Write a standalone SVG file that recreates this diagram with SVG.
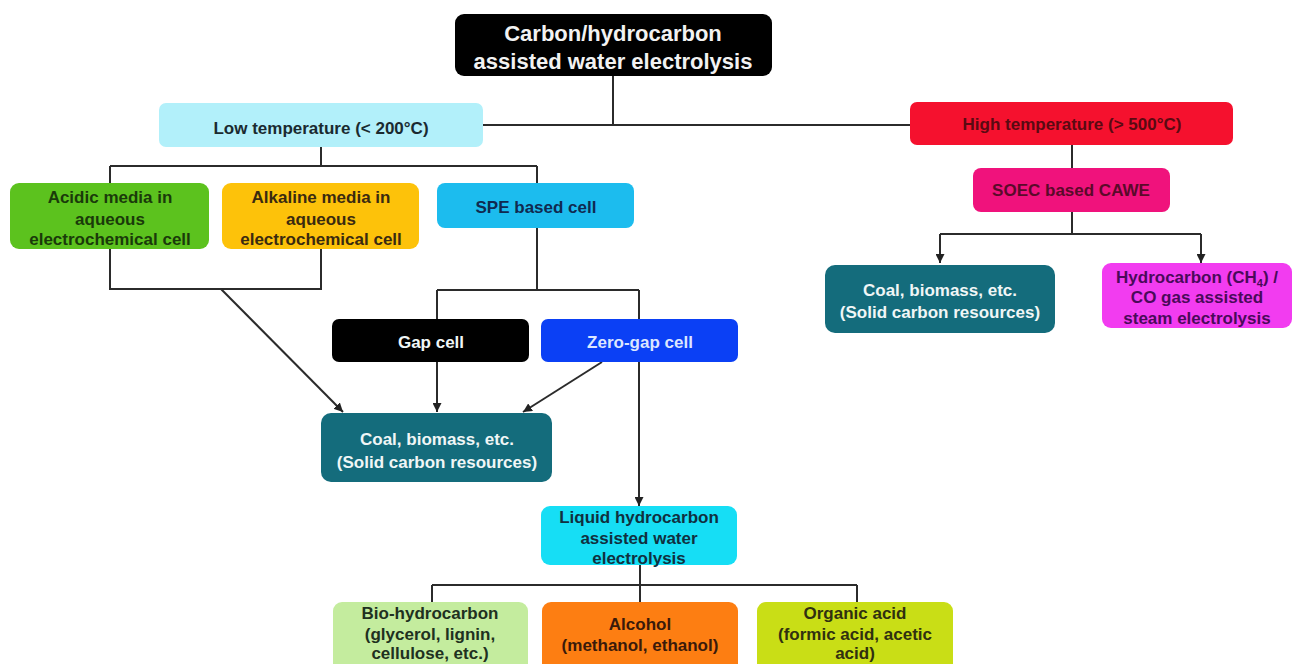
<svg xmlns="http://www.w3.org/2000/svg" width="1293" height="664" viewBox="0 0 1293 664">
<defs>
<marker id="ah" viewBox="0 0 10 10" refX="10" refY="5" markerWidth="9" markerHeight="9" markerUnits="userSpaceOnUse" orient="auto">
<path d="M0,0 L10,5 L0,10 z" fill="#222"/>
</marker>
<style>
.ln{fill:none;stroke:#2b2b2b;stroke-width:2}
.ar{fill:none;stroke:#2b2b2b;stroke-width:2;marker-end:url(#ah)}
text{font-family:"Liberation Sans",Arial,sans-serif;font-weight:bold;font-size:17px;text-anchor:middle}
.t{font-size:22px;fill:#f2f2f2}
.lt{fill:#f0f6f6}
</style>
</defs>
<rect width="1293" height="664" fill="#ffffff"/>
<g id="connectors">
<path class="ln" d="M613 76 V125 M483 125 H910"/>
<path class="ln" d="M321 147 V166 M110 166 H537 M110 166 V183 M537 166 V183"/>
<path class="ln" d="M110 249 V289 H321 V249"/>
<path class="ar" d="M221 289 L343 412"/>
<path class="ln" d="M537 228 V290 M437 290 H639 M437 290 V319"/>
<path class="ar" d="M639 290 V506"/>
<path class="ar" d="M437 362 V412"/>
<path class="ar" d="M602 362 L523 412"/>
<path class="ln" d="M640 565 V585 M432 585 H857 M432 585 V602 M857 585 V602 M640 585 V602"/>
<path class="ln" d="M1072 145 V168 M1072 212 V234 M940 234 H1201"/>
<path class="ar" d="M940 234 V263"/>
<path class="ar" d="M1201 234 V263"/>
</g>
<g id="title">
<rect x="455" y="14" width="317" height="62" rx="9" fill="#000"/>
<text class="t" x="613" y="41">Carbon/hydrocarbon</text>
<text class="t" x="613" y="69">assisted water electrolysis</text>
</g>
<g id="low-temp">
<rect x="159" y="103" width="324" height="44" rx="7" fill="#b2f0fa"/>
<text x="321" y="134" fill="#1a2a30">Low temperature (&lt; 200°C)</text>
</g>
<g id="high-temp">
<rect x="910" y="102" width="323" height="43" rx="7" fill="#f5112e"/>
<text x="1072" y="130" fill="#5a0a12">High temperature (&gt; 500°C)</text>
</g>
<g id="acidic">
<rect x="10" y="183" width="199" height="66" rx="9" fill="#5cc21e"/>
<text x="110" y="203" fill="#1a3a0a">Acidic media in</text>
<text x="110" y="225" fill="#1a3a0a">aqueous</text>
<text x="110" y="245" fill="#1a3a0a">electrochemical cell</text>
</g>
<g id="alkaline">
<rect x="222" y="183" width="197" height="66" rx="9" fill="#fdc20a"/>
<text x="321" y="203" fill="#3a2a10">Alkaline media in</text>
<text x="321" y="225" fill="#3a2a10">aqueous</text>
<text x="321" y="245" fill="#3a2a10">electrochemical cell</text>
</g>
<g id="spe">
<rect x="437" y="183" width="197" height="45" rx="8" fill="#1cbcee"/>
<text x="536" y="213" fill="#102a50">SPE based cell</text>
</g>
<g id="gap">
<rect x="332" y="319" width="197" height="43" rx="7" fill="#000"/>
<text x="431" y="348" class="lt">Gap cell</text>
</g>
<g id="zero-gap">
<rect x="541" y="319" width="197" height="43" rx="7" fill="#0b40f5"/>
<text x="640" y="348" fill="#dce6ff">Zero-gap cell</text>
</g>
<g id="coal-left">
<rect x="321" y="413" width="231" height="69" rx="10" fill="#146c7c"/>
<text x="437" y="445" class="lt">Coal, biomass, etc.</text>
<text x="437" y="468" class="lt">(Solid carbon resources)</text>
</g>
<g id="liquid">
<rect x="541" y="506" width="196" height="59" rx="9" fill="#16def5"/>
<text x="639" y="523" fill="#103040">Liquid hydrocarbon</text>
<text x="639" y="544" fill="#103040">assisted water</text>
<text x="639" y="564" fill="#103040">electrolysis</text>
</g>
<g id="soec">
<rect x="973" y="168" width="197" height="44" rx="8" fill="#f0127c"/>
<text x="1071" y="196" fill="#5a0a2a">SOEC based CAWE</text>
</g>
<g id="coal-right">
<rect x="825" y="265" width="230" height="68" rx="10" fill="#146c7c"/>
<text x="940" y="296" class="lt">Coal, biomass, etc.</text>
<text x="940" y="318" class="lt">(Solid carbon resources)</text>
</g>
<g id="hydrocarbon">
<rect x="1102" y="263" width="190" height="65" rx="9" fill="#f23cf0"/>
<text x="1197" y="283" fill="#4a0a5a">Hydrocarbon (CH<tspan font-size="11" dy="4">4</tspan><tspan dy="-4">) /</tspan></text>
<text x="1197" y="303" fill="#4a0a5a">CO gas assisted</text>
<text x="1197" y="324" fill="#4a0a5a">steam electrolysis</text>
</g>
<g id="bio">
<rect x="333" y="602" width="195" height="72" rx="9" fill="#c4ec9e"/>
<text x="430" y="619" fill="#203020">Bio-hydrocarbon</text>
<text x="430" y="640" fill="#203020">(glycerol, lignin,</text>
<text x="430" y="659" fill="#203020">cellulose, etc.)</text>
</g>
<g id="alcohol">
<rect x="542" y="602" width="196" height="72" rx="9" fill="#fd7e12"/>
<text x="640" y="630" fill="#3a1a0a">Alcohol</text>
<text x="640" y="651" fill="#3a1a0a">(methanol, ethanol)</text>
</g>
<g id="organic">
<rect x="757" y="602" width="196" height="72" rx="9" fill="#c9de16"/>
<text x="855" y="619" fill="#303010">Organic acid</text>
<text x="855" y="640" fill="#303010">(formic acid, acetic</text>
<text x="855" y="659" fill="#303010">acid)</text>
</g>
</svg>
